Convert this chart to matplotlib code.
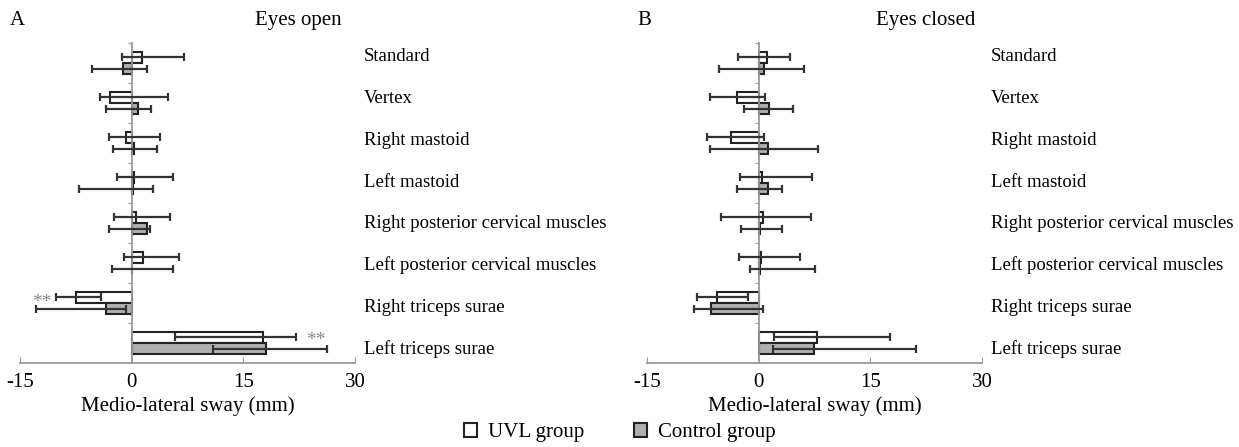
import numpy as np
import matplotlib.pyplot as plt

plt.rcParams['font.family'] = ['Liberation Serif', 'DejaVu Serif']

sites = ['Standard', 'Vertex', 'Right mastoid', 'Left mastoid',
         'Right posterior cervical muscles', 'Left posterior cervical muscles',
         'Right triceps surae', 'Left triceps surae']

# eyes open: bar value, error low end, error high end
open_uvl = [1.4, -2.9, -0.8, 0.35, 0.6, 1.55, -7.45, 17.6]
open_uvl_lo = [-1.3, -4.2, -3.0, -2.0, -2.3, -1.0, -10.1, 5.8]
open_uvl_hi = [7.1, 4.9, 3.8, 5.6, 5.2, 6.4, -4.1, 22.1]
open_ctl = [-1.1, 0.8, 0.3, 0.2, 2.05, 0.1, -3.4, 18.0]
open_ctl_lo = [-5.3, -3.4, -2.5, -7.1, -3.0, -2.7, -12.9, 10.9]
open_ctl_hi = [2.1, 2.6, 3.4, 2.9, 2.5, 5.5, -0.76, 26.3]

# eyes closed
closed_uvl = [1.07, -2.9, -3.7, 0.45, 0.6, 0.3, -5.6, 7.9]
closed_uvl_lo = [-2.8, -6.5, -7.0, -2.5, -5.0, -2.6, -8.3, 2.0]
closed_uvl_hi = [4.2, 0.9, 0.76, 7.1, 7.0, 5.6, -1.4, 17.6]
closed_ctl = [0.67, 1.43, 1.2, 1.3, 0.15, 0.2, -6.4, 7.45]
closed_ctl_lo = [-5.3, -2.0, -6.5, -2.9, -2.4, -1.2, -8.7, 1.87]
closed_ctl_hi = [6.1, 4.6, 8.0, 3.1, 3.1, 7.6, 0.6, 21.1]

xticks = [-15, 0, 15, 30]
ctl_color = '#b0b0b0'
edge = '#222222'
axis_gray = '#9a9a9a'

fig = plt.figure(figsize=(12.39, 4.47), dpi=100)


def panel(left, letter, title, uvl, uvl_lo, uvl_hi, ctl, ctl_lo, ctl_hi, stars=()):
    ax = fig.add_axes([left, 0.188, 0.2704, 0.716])
    y = np.arange(len(sites))
    h = 0.29
    ax.barh(y - 0.14, uvl, height=h, color='white', edgecolor=edge, linewidth=1.5, zorder=2)
    ax.barh(y + 0.14, ctl, height=h, color=ctl_color, edgecolor=edge, linewidth=1.5, zorder=2)
    for yy, lo, hi in zip(y - 0.14, uvl_lo, uvl_hi):
        ax.errorbar((lo + hi) / 2, yy, xerr=(hi - lo) / 2, fmt='none', ecolor='#333333',
                    elinewidth=1.6, capsize=3, capthick=1.6, zorder=3)
    for yy, lo, hi in zip(y + 0.14, ctl_lo, ctl_hi):
        ax.errorbar((lo + hi) / 2, yy, xerr=(hi - lo) / 2, fmt='none', ecolor='#333333',
                    elinewidth=1.6, capsize=3, capthick=1.6, zorder=3)
    ax.set_xlim(-15, 30)
    ax.set_ylim(7.5, -0.5)
    ax.set_xticks(xticks)
    ax.set_xticklabels([str(t) for t in xticks], fontsize=15)
    ax.tick_params(axis='x', direction='in', length=4, color=axis_gray, pad=7)
    ax.set_yticks(np.arange(-0.5, 8, 1))
    ax.set_yticklabels([])
    ax.tick_params(axis='y', direction='out', length=3, color=axis_gray)
    for s in ['top', 'right']:
        ax.spines[s].set_visible(False)
    ax.spines['left'].set_position(('data', 0))
    ax.spines['left'].set_color(axis_gray)
    ax.spines['left'].set_linewidth(1.3)
    ax.spines['bottom'].set_color(axis_gray)
    ax.spines['bottom'].set_linewidth(1.3)
    ax.set_xlabel('Medio-lateral sway (mm)', fontsize=15, labelpad=3)
    label_y = np.linspace(-0.15, 7.15, len(sites))
    for ly, name in zip(label_y, sites):
        ax.text(1.027, ly, name, transform=ax.get_yaxis_transform(), fontsize=13.5,
                va='center', ha='left')
    for xs, ys in stars:
        ax.text(xs, ys, '**', color='#888888', fontsize=14, ha='center', va='center')
    fig.text(left - 0.008, 0.955, letter, fontsize=15, ha='left', va='center')
    fig.text(left + 0.225, 0.955, title, fontsize=15, ha='center', va='center')
    return ax


panel(0.0161, 'A', 'Eyes open', open_uvl, open_uvl_lo, open_uvl_hi,
      open_ctl, open_ctl_lo, open_ctl_hi, stars=[(-12.1, 6.0), (24.8, 6.95)])
panel(0.5222, 'B', 'Eyes closed', closed_uvl, closed_uvl_lo, closed_uvl_hi,
      closed_ctl, closed_ctl_lo, closed_ctl_hi)

# legend
from matplotlib.patches import Patch
handles = [Patch(facecolor='white', edgecolor=edge, linewidth=1.5, label='UVL group'),
           Patch(facecolor=ctl_color, edgecolor=edge, linewidth=1.5, label='Control group')]
fig.legend(handles=handles, loc='center', bbox_to_anchor=(0.5, 0.032), ncol=2,
           frameon=False, fontsize=15, handlelength=0.65, handleheight=0.65,
           columnspacing=2.4, handletextpad=0.5)

fig.savefig('out.png', dpi=100)
